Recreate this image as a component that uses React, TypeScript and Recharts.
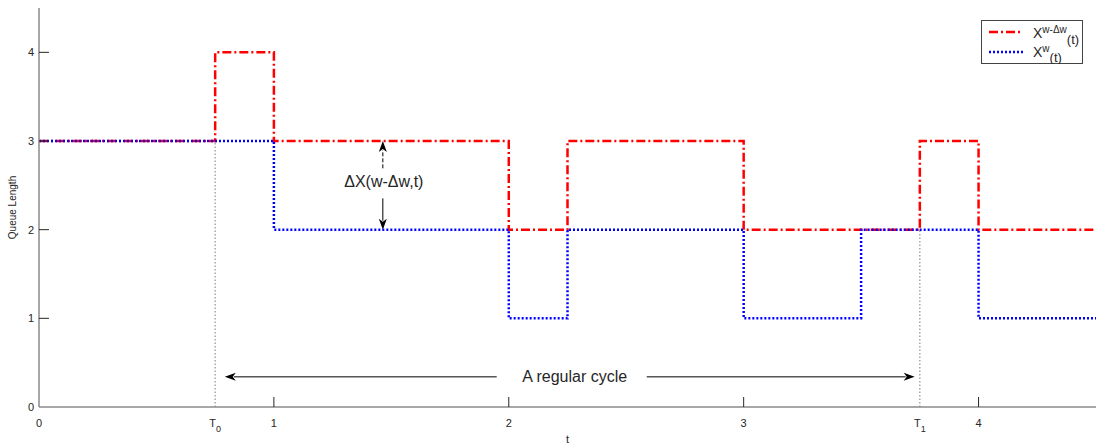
import React from 'react';
import { LineChart, Line, XAxis, YAxis, ReferenceLine, Legend } from 'recharts';

// Queue length of the perturbed system X^{w-Δw}(t) (red)
const redT = [0, 0.75, 1, 2, 2.25, 3, 3.75, 4, 4.5];
const redQ = [3, 4, 3, 2, 3, 2, 3, 2, 2];
// Queue length of the nominal system X^{w}(t) (blue)
const blueT = [0, 1, 2, 2.25, 3, 3.5, 4, 4.5];
const blueQ = [3, 2, 1, 2, 1, 2, 1, 1];

const xTicks = [0, 0.75, 1, 2, 3, 3.75, 4];
const xTickLabels = ['0', 'T0', '1', '2', '3', 'T1', '4'];
const yTicks = [0, 1, 2, 3, 4];

// regeneration points T0, T1 and the queue level reached there
const markerT = [0.75, 3.75];
const markerQ = [3, 2];

// annotation anchors (data coordinates)
const deltaT = 1.4638;
const deltaRange = [2, 3];
const cycleStart = 0.791;
const cycleEnd = 3.728;
const cycleLevel = 0.34;

const redData = redT.map((t, i) => ({ t, q: redQ[i] }));
const blueData = blueT.map((t, i) => ({ t, q: blueQ[i] }));

const FONT = '"Liberation Sans", Arial, Helvetica, sans-serif';
const TXT = '#262626';

function headPath(x: number, y: number, dx: number, dy: number, len = 11, half = 4) {
  const bx = x - dx * len;
  const by = y - dy * len;
  const nx = -dy;
  const ny = dx;
  const cx = x - dx * len * 0.72;
  const cy = y - dy * len * 0.72;
  return `M${x},${y} L${bx + nx * half},${by + ny * half} L${cx},${cy} L${bx - nx * half},${by - ny * half} Z`;
}

const XTick = (props: any) => {
  const { x, y, payload, index } = props;
  const label = xTickLabels[index] ?? String(payload.value);
  const isT = label.startsWith('T');
  return (
    <g>
      {!isT && payload.value !== 0 && (
        <line x1={x} x2={x} y1={y} y2={y - 10} stroke={TXT} strokeWidth={1} />
      )}
      <text x={x} y={y + 20} textAnchor="middle" fontSize={11} fill={TXT} fontFamily={FONT}>
        {isT ? (
          <>
            T<tspan dy={5} fontSize={9}>{label.slice(1)}</tspan>
          </>
        ) : (
          label
        )}
      </text>
    </g>
  );
};

const YTick = (props: any) => {
  const { x, y, payload } = props;
  return (
    <g>
      {payload.value !== 0 && (
        <line x1={x} x2={x + 10} y1={y} y2={y} stroke={TXT} strokeWidth={1} />
      )}
      <text x={x - 5} y={y + 4} textAnchor="end" fontSize={11} fill={TXT} fontFamily={FONT}>
        {payload.value}
      </text>
    </g>
  );
};

const DeltaShape = (props: any) => {
  const { x1, y1, y2 } = props;
  // y1 at lower level (q=2), y2 at upper level (q=3)
  const mid = (y1 + y2) / 2;
  const upStart = mid - 17;
  const downStart = mid + 13;
  return (
    <g>
      <line x1={x1} x2={x1} y1={upStart} y2={y2 + 9} stroke="#000" strokeWidth={1} strokeDasharray="4 2" />
      <path d={headPath(x1, y2, 0, -1)} fill="#000" />
      <line x1={x1} x2={x1} y1={downStart} y2={y1 - 9} stroke="#000" strokeWidth={1} />
      <path d={headPath(x1, y1, 0, 1)} fill="#000" />
      <text x={x1 + 1} y={mid + 2} textAnchor="middle" fontSize={16} fill={TXT} fontFamily={FONT}>
        ΔX(w-Δw,t)
      </text>
    </g>
  );
};

const CycleShape = (props: any) => {
  const { x1, y1, x2 } = props;
  const mid = (x1 + x2) / 2;
  const gapL = mid - 73;
  const gapR = mid + 77;
  return (
    <g>
      <line x1={x1 + 9} x2={gapL} y1={y1} y2={y1} stroke="#000" strokeWidth={1} />
      <line x1={gapR} x2={x2 - 9} y1={y1} y2={y1} stroke="#000" strokeWidth={1} />
      <path d={headPath(x1, y1, -1, 0)} fill="#000" />
      <path d={headPath(x2, y1, 1, 0)} fill="#000" />
      <text x={mid + 5} y={y1 + 5} textAnchor="middle" fontSize={16} fill={TXT} fontFamily={FONT}>
        A regular cycle
      </text>
    </g>
  );
};

const LegendBox = () => (
  <svg width={102} height={44} style={{ display: 'block' }}>
    <rect x={0.5} y={0.5} width={101} height={43} fill="#fff" stroke="#444" strokeWidth={1} />
    <line x1={8} x2={42} y1={12} y2={12} stroke="#ff0000" strokeWidth={2.5} strokeDasharray="9 3 2 3" />
    <text x={52} y={18} fontSize={14} fill={TXT} fontFamily={FONT}>
      X<tspan dy={-5} fontSize={10} fill={TXT}>w-Δw</tspan>
      <tspan dy={11} fontSize={13} fill={TXT}>(t)</tspan>
    </text>
    <line x1={8} x2={42} y1={32} y2={32} stroke="#0000ff" strokeWidth={2.5} strokeDasharray="2 2" />
    <text x={52} y={37} fontSize={14} fill={TXT} fontFamily={FONT}>
      X<tspan dy={-5} fontSize={10} fill={TXT}>w</tspan>
      <tspan dy={10} fontSize={13} fill={TXT}>(t)</tspan>
    </text>
  </svg>
);

export default function App() {
  return (
    <div style={{ position: 'absolute', left: 0, top: 0, width: 1100, height: 447, background: '#fff' }}>
      <LineChart
        width={1100}
        height={447}
        margin={{ top: 8, right: 4, bottom: 0, left: 0 }}
        style={{ fontFamily: FONT }}
      >
        <XAxis
          dataKey="t"
          type="number"
          domain={[0, 4.5]}
          ticks={xTicks}
          interval={0}
          height={40}
          tickSize={0}
          tickMargin={0}
          tick={<XTick />}
          axisLine={{ stroke: '#8a8a8a', strokeWidth: 1.5 }}
          tickLine={false}
          label={{
            content: (p: any) => {
              const vb = p.viewBox || {};
              return (
                <text x={vb.x + vb.width / 2} y={443} textAnchor="middle" fontSize={11} fill={TXT} fontFamily={FONT}>
                  t
                </text>
              );
            },
          }}
        />
        <YAxis
          type="number"
          domain={[0, 4.5]}
          ticks={yTicks}
          interval={0}
          width={39}
          tickSize={0}
          tickMargin={0}
          tick={<YTick />}
          axisLine={{ stroke: '#8a8a8a', strokeWidth: 1.5 }}
          tickLine={false}
          label={{
            content: (p: any) => {
              const vb = p.viewBox || {};
              const cy = vb.y + vb.height / 2;
              return (
                <text
                  x={16}
                  y={cy}
                  transform={`rotate(-90, 16, ${cy})`}
                  textAnchor="middle"
                  fontSize={10}
                  fill={TXT}
                  fontFamily={FONT}
                >
                  Queue Length
                </text>
              );
            },
          }}
        />
        {markerT.map((t, i) => (
          <ReferenceLine
            key={`m${i}`}
            segment={[
              { x: t, y: 0 },
              { x: t, y: markerQ[i] },
            ]}
            stroke="#9a9a9a"
            strokeWidth={1.3}
            strokeDasharray="1.5 2"
          />
        ))}
        <ReferenceLine
          segment={[
            { x: cycleStart, y: cycleLevel },
            { x: cycleEnd, y: cycleLevel },
          ]}
          shape={(p: any) => <CycleShape {...p} />}
        />
        <ReferenceLine
          segment={[
            { x: deltaT, y: deltaRange[0] },
            { x: deltaT, y: deltaRange[1] },
          ]}
          shape={(p: any) => <DeltaShape {...p} />}
        />
        <Line
          data={redData}
          dataKey="q"
          type="stepAfter"
          stroke="#ff0000"
          strokeWidth={2.5}
          strokeDasharray="9 3 2 3"
          dot={false}
          isAnimationActive={false}
          name="red"
        />
        <Line
          data={blueData}
          dataKey="q"
          type="stepAfter"
          stroke="#0000ff"
          strokeWidth={2.5}
          strokeDasharray="2 2"
          dot={false}
          isAnimationActive={false}
          name="blue"
        />
        <Legend
          layout="vertical"
          align="center"
          verticalAlign="middle"
          wrapperStyle={{ left: 981, top: 20, width: 102, height: 44 }}
          content={() => <LegendBox />}
        />
      </LineChart>
    </div>
  );
}
